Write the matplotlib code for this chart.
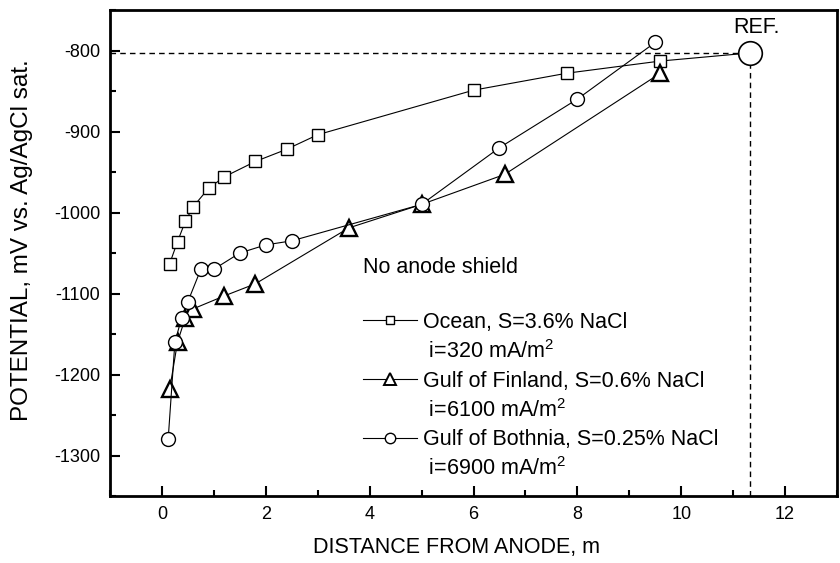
import matplotlib
matplotlib.use("Agg")
import matplotlib.pyplot as plt
from matplotlib.lines import Line2D
from matplotlib.ticker import MultipleLocator

plt.rcParams['font.family'] = ['Liberation Sans', 'DejaVu Sans']
plt.rcParams['mathtext.fontset'] = 'custom'
plt.rcParams['mathtext.rm'] = 'Liberation Sans'
plt.rcParams['mathtext.default'] = 'regular'
plt.rcParams['axes.unicode_minus'] = False

# data
ocean_x = [0.15, 0.3, 0.45, 0.6, 0.9, 1.2, 1.8, 2.4, 3.0, 6.0, 7.8, 9.6]
ocean_y = [-1063, -1036, -1011, -993, -970, -956, -937, -922, -904, -849, -828, -813]

finland_x = [0.15, 0.3, 0.45, 0.6, 1.2, 1.8, 3.6, 5.0, 6.6, 9.6]
finland_y = [-1218, -1160, -1130, -1119, -1103, -1088, -1019, -990, -953, -828]

bothnia_x = [0.12, 0.25, 0.38, 0.5, 0.75, 1.0, 1.5, 2.0, 2.5, 5.0, 6.5, 8.0, 9.5]
bothnia_y = [-1280, -1160, -1130, -1110, -1070, -1070, -1050, -1040, -1035, -990, -920, -860, -790]

ref_x = 11.33
ref_y = -803

labels = ["Ocean, S=3.6% NaCl", " i=320 mA/m$^2$",
          "Gulf of Finland, S=0.6% NaCl", " i=6100 mA/m$^2$",
          "Gulf of Bothnia, S=0.25% NaCl", " i=6900 mA/m$^2$"]

fig = plt.figure(figsize=(8.4, 5.63), dpi=100)
ax = fig.add_axes([110/840, 1-496/563, 727/840, 486/563])

lw = 0.8
# dashed guides to the reference point
ax.plot([-1, ref_x], [ref_y, ref_y], 'k--', lw=1.0, dashes=(4, 3), zorder=1)
ax.plot([ref_x, ref_x], [ref_y, -1350], 'k--', lw=1.0, dashes=(4, 3), zorder=1)

ax.plot([ocean_x[-1], ref_x], [ocean_y[-1], ref_y], 'k-', lw=lw, zorder=2)
ax.plot(ocean_x, ocean_y, 'k-', marker='s', ms=9, mfc='white', mec='black', mew=1.0, lw=lw, zorder=3)
ax.plot(finland_x, finland_y, 'k-', marker='^', ms=12, mfc='white', mec='black', mew=1.7, lw=lw, zorder=3)
ax.plot(bothnia_x, bothnia_y, 'k-', marker='o', ms=10, mfc='white', mec='black', mew=1.0, lw=lw, zorder=4)
ax.plot([ref_x], [ref_y], marker='o', ms=17, mfc='white', mec='black', mew=1.2, zorder=5)
ax.text(ref_x + 0.12, -771, "REF.", fontsize=15.5, ha='center', va='center')

ax.set_xlim(-1, 13)
ax.set_ylim(-1350, -750)
ax.xaxis.set_major_locator(MultipleLocator(2))
ax.xaxis.set_minor_locator(MultipleLocator(1))
ax.yaxis.set_major_locator(MultipleLocator(100))
ax.yaxis.set_minor_locator(MultipleLocator(50))
ax.tick_params(which='major', direction='in', length=7, width=1.5, labelsize=13, pad=7)
ax.tick_params(which='minor', direction='in', length=4, width=1.5)
for s in ax.spines.values():
    s.set_linewidth(2)

ax.set_xlabel("DISTANCE FROM ANODE, m", fontsize=15.5)
ax.xaxis.set_label_coords(0.477, -0.085)
ax.set_ylabel("POTENTIAL, mV vs. Ag/AgCl sat.", fontsize=17.5)
ax.yaxis.set_label_coords(-0.106, 0.527)

fig.text(363/840, 1-267/563, "No anode shield", fontsize=15.5, ha='left', va='center')

blank = Line2D([], [], linestyle='none')
handles = [Line2D([], [], color='k', lw=lw, marker='s', ms=6, mfc='white', mew=1.0), blank,
           Line2D([], [], color='k', lw=lw, marker='^', ms=8, mfc='white', mew=1.4), blank,
           Line2D([], [], color='k', lw=lw, marker='o', ms=7.5, mfc='white', mew=1.0), blank]
ax.legend(handles, labels, loc='upper left', bbox_to_anchor=(363/840, 1-312/563),
          bbox_transform=fig.transFigure, frameon=False, fontsize=15.5,
          borderpad=0, borderaxespad=0, handlelength=2.5, handletextpad=0.3,
          labelspacing=0.34)

fig.savefig("out.png", dpi=100)
